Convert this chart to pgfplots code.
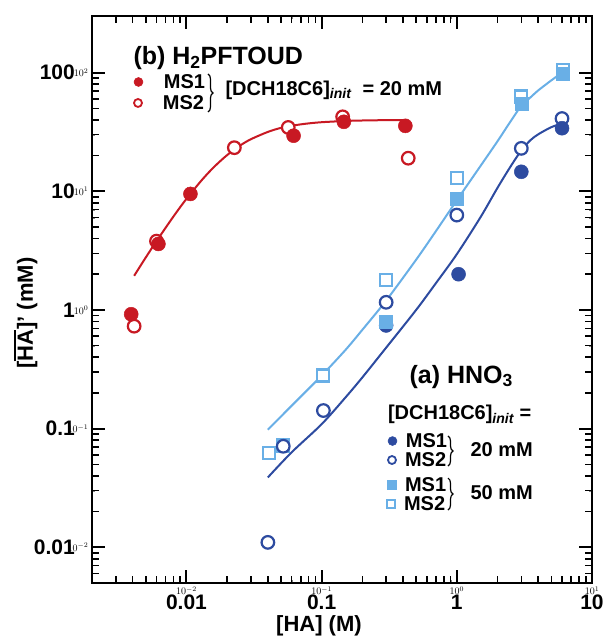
\documentclass[border=0pt]{standalone}
\usepackage{fontspec}
\setmainfont{Liberation Sans}
\usepackage{pgfplots}
\pgfplotsset{compat=1.18}
\usetikzlibrary{decorations.pathreplacing}
\definecolor{cred}{RGB}{200,25,35}
\definecolor{cdark}{RGB}{45,75,160}
\definecolor{clight}{RGB}{105,175,230}
\newcommand{\fs}[1]{\fontsize{#1}{#1}\selectfont\bfseries}
\newcommand{\init}{\textsubscript{\itshape init}}
\newcommand{\ovl}[1]{\begingroup\setbox0\hbox{#1}\rlap{\rule[\dimexpr\ht0+1.8pt\relax]{\wd0}{1.6pt}}\box0\endgroup}
% one legend row per hidden axis: #1 = x, #2 = y (rel axis cs), #3 = column sep, #4 = image options, #5 = text
\newcommand{\legrow}[5]{%
\begin{axis}[scale only axis, width=500pt, height=567pt,
  xmode=log, ymode=log, xmin=0.002, xmax=10, ymin=0.005, ymax=300,
  at={(0pt,0pt)}, anchor=south west, hide axis, legend cell align=left,
  legend image code/.code={\draw[##1] plot coordinates {(0pt,0pt)};},
  legend style={draw=none, fill=none, inner sep=0pt, outer sep=0pt, anchor=west,
    font=\fs{20}, at={(rel axis cs:#1,#2)},
    /tikz/every odd column/.append style={column sep=#3}}]
\addplot[draw=none, forget plot] coordinates {(1,1)};
\addlegendimage{#4}
\addlegendentry{#5}
\end{axis}}

\begin{document}
\begin{tikzpicture}
\path[use as bounding box] (-92pt,-59pt) rectangle (512pt,583pt);
\legrow{0.084}{0.8836}{19pt}{only marks, mark=*, mark size=4.5pt, mark options={draw=cred, fill=cred, line width=0.5pt}}{MS1}
\legrow{0.084}{0.8466}{19pt}{only marks, mark=*, mark size=4pt, mark options={draw=cred, fill=white, line width=1.8pt}}{MS2}
\legrow{0.592}{0.2504}{7pt}{only marks, mark=*, mark size=4.5pt, mark options={draw=cdark, fill=cdark, line width=0.5pt}}{MS1}
\legrow{0.592}{0.2169}{7pt}{only marks, mark=*, mark size=4pt, mark options={draw=cdark, fill=white, line width=1.8pt}}{MS2}
\legrow{0.590}{0.1728}{7pt}{only marks, mark=square*, mark size=4.5pt, mark options={draw=clight, fill=clight, line width=0.5pt}}{MS1}
\legrow{0.590}{0.1393}{7pt}{only marks, mark=square*, mark size=4pt, mark options={draw=clight, fill=white, line width=1.8pt}}{MS2}

\begin{axis}[scale only axis, width=500pt, height=567pt,
  xmode=log, ymode=log, xmin=0.002, xmax=10, ymin=0.005, ymax=300,
  at={(0pt,0pt)}, anchor=south west,
  axis line style={line width=2.5pt},
  xtick={0.01,0.1,1,10}, xticklabels={0.01,0.1,1,10},
  ytick={0.01,0.1,1,10,100}, yticklabels={0.01,0.1,1,10,100},
  tick label style={font=\fs{21}},
  xticklabel style={inner sep=0pt, yshift=-12pt},
  yticklabel style={inner sep=0pt, xshift=-17pt},
  xlabel={[HA] (M)}, ylabel={[\ovl{HA}]' (mM)},
  label style={font=\fs{22}},
  xlabel style={at={(rel axis cs:0.454,-0.0855)}, anchor=base},
  ylabel style={at={(rel axis cs:-0.118,0.476)}, anchor=base},
]
% model curves
\addplot[cred, line width=2pt, smooth] coordinates {
(0.0041,1.94) (0.005,2.77) (0.006,3.80) (0.008,6.12) (0.01,8.64) (0.013,12.45)
(0.016,16.04) (0.02,20.2) (0.025,24.35) (0.03,27.49) (0.04,31.64) (0.05,34.22)
(0.065,36.18) (0.08,37.33) (0.1,38.2) (0.15,39.15) (0.2,39.5) (0.3,39.77) (0.43,39.88)};
\addplot[cdark, line width=2pt, smooth] coordinates {
(0.04,0.0388) (0.06,0.0632) (0.1,0.109) (0.15,0.183) (0.2,0.270) (0.3,0.481) (0.5,1.0)
(0.7,1.68) (1,2.95) (1.5,6.07) (2,10.7) (2.5,16.2) (3,22.1) (3.5,26.9) (4,30.2) (5,34.7) (6,37.2)};
\addplot[clight, line width=2pt, smooth] coordinates {
(0.04,0.098) (0.06,0.156) (0.1,0.28) (0.15,0.46) (0.2,0.68) (0.3,1.2) (0.5,2.65)
(0.7,4.61) (1,8.4) (1.5,16.4) (2,26.4) (2.5,38.9) (3,52.5) (3.5,61.7) (4,70.8) (5,86) (6,100)};
% red MS2 open
\addplot[only marks, mark=*, mark size=6.3pt, mark options={draw=cred, fill=white, line width=2.2pt}] coordinates {
(0.0041,0.73) (0.0060,3.8) (0.0226,23.3) (0.0566,34.5) (0.143,42.4) (0.437,19)};
% red MS1 filled
\addplot[only marks, mark=*, mark size=7pt, mark options={draw=cred, fill=cred, line width=0.5pt}] coordinates {
(0.0039,0.92) (0.0062,3.6) (0.0107,9.5) (0.062,29.4) (0.146,38.5) (0.416,35.6)};
% light MS2 open squares
\addplot[only marks, mark=square*, mark size=6pt, mark options={draw=clight, fill=white, line width=2.2pt}] coordinates {
(0.0407,0.062) (0.052,0.072) (0.103,0.28) (0.3,1.78) (1,13) (3,63) (6.1,106)};
% dark MS2 open circles
\addplot[only marks, mark=*, mark size=6.3pt, mark options={draw=cdark, fill=white, line width=2.2pt}] coordinates {
(0.04,0.011) (0.052,0.071) (0.103,0.142) (0.3,1.16) (1,6.3) (3,23) (6,41)};
% dark MS1 filled circles
\addplot[only marks, mark=*, mark size=7pt, mark options={draw=cdark, fill=cdark, line width=0.5pt}] coordinates {
(0.3,0.74) (1.03,2.0) (3,14.6) (6,34)};
% light MS1 filled squares
\addplot[only marks, mark=square*, mark size=6.5pt, mark options={draw=clight, fill=clight, line width=0.5pt}] coordinates {
(0.3,0.79) (1,8.7) (3,55) (6.1,98)};

\node[anchor=base west, font=\fs{25}] at (rel axis cs:0.076,0.9136) {(b) H\textsubscript{2}PFTOUD};
\node[anchor=west, font=\fs{20}] at (rel axis cs:0.26,0.8695) {[DCH18C6]\init\ \ = 20 mM};
\draw[line width=1.2pt, decorate, decoration={brace, amplitude=5pt}] (rel axis cs:0.232,0.8977) -- (rel axis cs:0.232,0.8307);
\node[anchor=base west, font=\fs{25}] at (rel axis cs:0.628,0.3527) {(a) HNO\textsubscript{3}};
\node[anchor=base west, font=\fs{20}] at (rel axis cs:0.585,0.2875) {[DCH18C6]\init\ =};
\node[anchor=west, font=\fs{20}] at (rel axis cs:0.75,0.2346) {20 mM};
\node[anchor=west, font=\fs{20}] at (rel axis cs:0.75,0.1587) {50 mM};
\draw[line width=1.2pt, decorate, decoration={brace, amplitude=5pt}] (rel axis cs:0.712,0.2593) -- (rel axis cs:0.712,0.2063);
\draw[line width=1.2pt, decorate, decoration={brace, amplitude=5pt}] (rel axis cs:0.712,0.185) -- (rel axis cs:0.712,0.1287);
\end{axis}

% frame and ticks overlay
\begin{axis}[scale only axis, width=500pt, height=567pt,
  xmode=log, ymode=log, xmin=0.002, xmax=10, ymin=0.005, ymax=300,
  at={(0pt,0pt)}, anchor=south west,
  axis line style={line width=2.5pt},
  major tick style={draw=black, line width=2pt},
  minor tick style={draw=black, line width=1.6pt},
  major tick length=13pt, minor tick length=7pt,
  xticklabel={}, yticklabel={}]
\addplot[draw=none] coordinates {(1,1)};
\end{axis}
\end{tikzpicture}
\end{document}
